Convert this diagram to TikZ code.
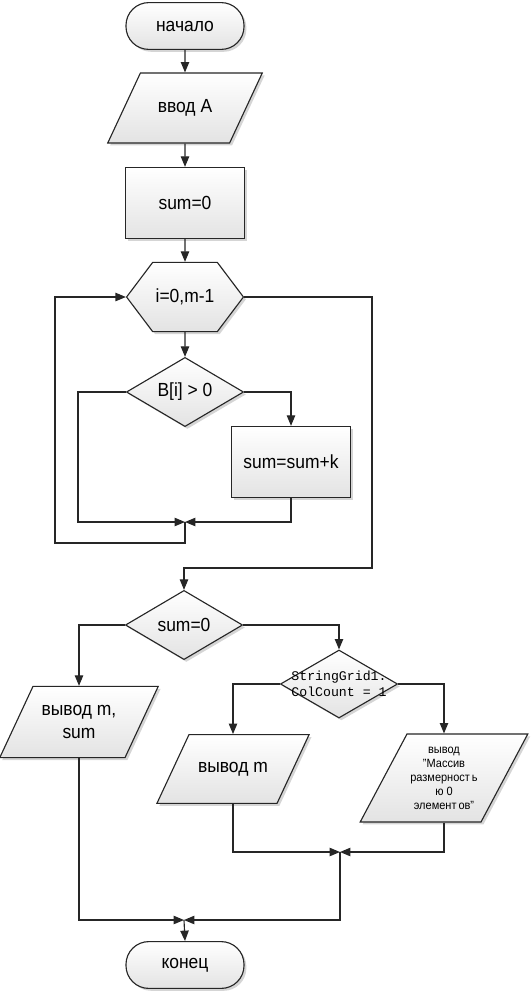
\documentclass[tikz,border=0pt]{standalone}
\usepackage{fontspec}
\setmainfont{Liberation Sans}[FakeStretch=0.92]
\setmonofont{Liberation Mono}
\usetikzlibrary{arrows.meta,positioning,calc,shapes.geometric,shapes.symbols,shadows}

\begin{document}
\begin{tikzpicture}[x=0.025cm,y=-0.025cm,
  every node/.style={font=\fontsize{13.5}{16}\selectfont, text=black},
  blk/.style={draw=gray!30!black, line width=0.8pt, top color=white, bottom color=gray!22,
    drop shadow={shadow xshift=0.06cm, shadow yshift=-0.06cm, fill=gray!55, opacity=0.6}, inner sep=1pt},
  term/.style={blk, rectangle, rounded corners=0.57cm, minimum width=2.95cm, minimum height=1.17cm},
  proc/.style={blk, rectangle, minimum width=2.97cm, minimum height=1.78cm},
  io/.style n args={2}{blk, trapezium, trapezium left angle=65, trapezium right angle=115, inner sep=0pt,
    execute at begin node={\begin{minipage}[c][#1][c]{#2}\centering},
    execute at end node={\end{minipage}}},
  dec/.style={blk, diamond, aspect=1.7, minimum width=2.93cm, minimum height=1.73cm, inner sep=0pt},
  cyc/.style={blk, signal, signal to=west and east, signal pointer angle=106,
    minimum width=2.92cm, minimum height=1.73cm},
  conn/.style={draw=gray!30!black, line width=0.8pt},
  arr/.style={conn, -{Triangle[length=2.6mm,width=2.1mm]}}]
\useasboundingbox (0,0) rectangle (531,995);

% main column
\node[term] (start) at (185,26) {начало};
\node[io={1.75cm}{2.23cm}] (inA) at (185,108) {ввод A};
\node[proc] (s0) at (185,203) {sum=0};
\node[cyc] (loop) at (185,297) {i=0,m-1};
\node[dec] (chk) at (185,392) {B[i] > 0};
\node[proc] (add) at (291,462) {sum=sum+k};
\coordinate (m1) at (185,522);

% after the loop
\node[dec] (zero) at (184,625) {sum=0};
\node[dec, minimum height=1.7cm,
  label={[font=\ttfamily\fontsize{9.4}{11.4}\selectfont, align=left]center:{StringGrid1.\\ColCount = 1}}]
  (sg) at (339,684) {};
\node[io={1.78cm}{2.3cm}] (outA) at (79,722) {вывод m,\\sum};
\node[io={1.72cm}{2.2cm}] (outM) at (233,769) {вывод m};
\node[io={2.2cm}{1.85cm}, trapezium left angle=62, trapezium right angle=118,
  font=\fontsize{8.5}{10}\selectfont] (outE) at (444,778)
  {вывод\\"Массив\\размерност\,ь\\ю 0\\элемент\,ов"};
\coordinate (m2) at (340,852);
\coordinate (m3) at (184,920);
\node[term] (stop) at (185,965) {конец};

\draw[arr] (start) -- (inA);
\draw[arr] (inA) -- (s0);
\draw[arr] (s0) -- (loop);
\draw[arr] (loop) -- (chk);
\draw[arr] (chk.east) -| (add.north);
\draw[arr] (chk.west) -| (78,522) -- (m1);
\draw[arr] (add.south) |- (m1);
\draw[arr] (m1) -- ++(0,21) -| (55,297) -- (loop.west);
\draw[arr] (loop.east) -| (372,568) -| (zero.north);

\draw[arr] (zero.west) -| (outA.north);
\draw[arr] (zero.east) -| (sg.north);
\draw[arr] (sg.west) -| (outM.north);
\draw[arr] (sg.east) -| (outE.north);
\draw[arr] (outM.south) |- (m2);
\draw[arr] (outE.south) |- (m2);
\draw[arr] (m2) |- (m3);
\draw[arr] (outA.south) |- (m3);
\draw[arr] (m3) -- (stop.north);
\end{tikzpicture}
\end{document}
